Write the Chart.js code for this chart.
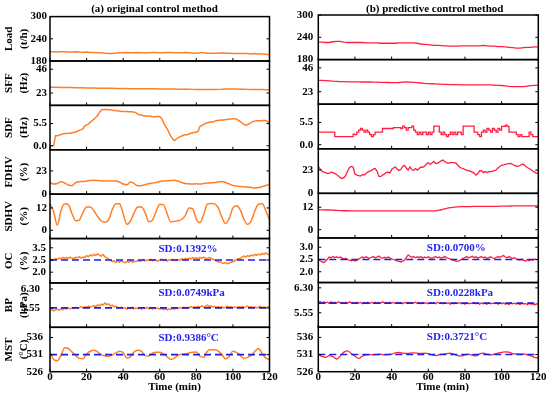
<!DOCTYPE html>
<html>
<head>
<meta charset="utf-8">
<script src="https://cdn.jsdelivr.net/npm/chart.js@4.4.1/dist/chart.umd.min.js"></script>
<style>
  html, body { margin: 0; padding: 0; background: #fff; }
  #wrap { position: relative; width: 550px; height: 398px; overflow: hidden; }
  canvas { position: absolute; top: 0; }
  #cA { left: 0; }
  #cB { left: 275px; }
</style>
</head>
<body>
<div id="wrap">
  <canvas id="cA" width="285" height="398"></canvas>
  <canvas id="cB" width="275" height="398"></canvas>
</div>
<script>
// time bases (min)
var minutes1 = [];
for (var i = 0; i <= 120; i++) minutes1.push(i);
var minutes2 = [];
for (var i = 0; i <= 120; i += 2) minutes2.push(i);
var xTicks = [0, 20, 40, 60, 80, 100, 120];

var panelTitles = [['Load', '(t/h)'], ['SFF', '(Hz)'], ['SDF', '(Hz)'], ['FDHV', '(%)'],
                   ['SDHV', '(%)'], ['OC', '(%)'], ['BP', '(kPa)'], ['MST', '(°C)']];

// (a) original control method
var loadA = [205,205,204,205,205,204,204,205,204,203,
             204,203,203,202,202,201,200,200,201,202,
             202,203,202,202,203,202,202,202,203,203,
             202,202,203,203,202,202,202,203,202,201,
             201,202,202,201,201,201,201,202,201,201,
             200,200,200,200,200,199,200,199,199,198,
             197];
var sffA = [28.6,28.5,28.5,28.4,28.3,28.3,28.2,28.1,28.0,28.0,
            27.9,27.8,27.8,27.7,27.6,27.6,27.5,27.5,27.4,27.4,
            27.3,27.3,27.2,27.2,27.2,27.1,27.1,27.0,27.0,27.0,
            26.9,26.9,26.9,26.8,26.8,26.7,26.7,26.6,26.6,26.5,
            26.4,26.3,26.3,26.3,26.3,26.4,26.5,26.6,26.8,26.8,
            26.8,26.8,26.7,26.6,26.5,26.4,26.4,26.3,26.3,26.2,
            26.2];
var sdfA = [0.0,0.0,0.0,2.5,2.5,2.6,2.8,2.9,3.0,3.0,
            3.1,3.1,3.2,3.3,3.4,3.6,3.8,4.0,4.2,4.9,
            5.1,5.4,5.8,6.2,6.6,7.0,7.5,8.2,8.8,9.0,
            9.0,9.0,8.9,8.9,8.8,8.7,8.7,8.6,8.6,8.5,
            8.5,8.5,8.5,8.4,8.4,8.4,8.3,8.2,7.8,7.7,
            7.6,7.4,7.4,7.3,7.3,7.3,7.2,7.2,7.2,7.3,
            7.2,6.8,5.8,4.9,4.2,3.3,2.4,1.7,1.3,1.6,
            2.0,2.2,2.4,2.6,2.8,2.7,2.9,3.1,3.2,3.3,
            3.4,3.6,4.8,5.0,5.3,5.5,5.7,5.8,5.9,5.9,
            6.1,6.2,6.3,6.3,6.4,6.4,6.5,6.5,6.6,6.6,
            6.7,6.7,6.6,6.3,6.0,5.6,5.3,5.1,5.2,5.5,
            5.8,6.0,6.1,6.2,6.2,6.2,6.2,6.3,6.2,6.0,
            5.8];
var fdhvA = [11.3,10.0,10.5,12.3,11.0,9.0,8.3,11.5,12.3,12.5,
             13.0,13.5,13.7,13.5,13.2,13.0,13.2,13.0,13.0,12.0,
             10.0,9.2,12.0,10.5,8.3,8.5,9.5,10.4,11.0,11.5,
             12.5,13.0,13.2,13.5,13.8,13.0,11.5,10.5,10.2,10.0,
             10.3,10.0,10.5,11.0,11.2,11.5,12.0,12.5,11.5,10.0,
             8.5,8.0,7.5,7.3,7.0,6.8,6.0,6.5,7.5,8.5,
             10.0];
var sdhvA = [14.4,10.0,2.8,10.5,14.2,13.8,9.0,5.2,5.5,9.5,
             12.5,12.5,10.5,7.5,5.0,4.4,5.5,11.0,14.3,14.2,
             9.0,3.2,5.0,9.5,12.5,12.5,9.5,4.6,5.5,10.0,
             14.0,13.8,9.0,4.5,4.8,5.2,5.8,8.0,12.0,11.5,
             6.0,4.0,8.5,14.0,14.4,14.2,12.0,7.0,3.6,6.5,
             12.0,13.2,11.0,6.0,3.2,5.0,10.5,14.0,14.2,10.5,
             5.5];
var ocA = [2.45,2.52,2.50,2.56,2.53,2.58,2.55,2.61,2.56,2.60,
           2.57,2.62,2.58,2.55,2.61,2.59,2.64,2.58,2.62,2.60,
           2.68,2.64,2.71,2.67,2.73,2.69,2.75,2.70,2.66,2.72,
           2.63,2.60,2.54,2.49,2.43,2.47,2.40,2.45,2.41,2.46,
           2.42,2.38,2.44,2.40,2.46,2.41,2.45,2.43,2.48,2.44,
           2.47,2.52,2.46,2.50,2.48,2.53,2.47,2.51,2.49,2.45,
           2.50,2.54,2.48,2.52,2.46,2.51,2.49,2.53,2.47,2.50,
           2.52,2.48,2.55,2.51,2.57,2.53,2.58,2.54,2.60,2.56,
           2.59,2.55,2.61,2.57,2.62,2.58,2.55,2.60,2.57,2.53,
           2.50,2.46,2.42,2.44,2.38,2.36,2.40,2.34,2.38,2.41,
           2.43,2.47,2.52,2.56,2.55,2.62,2.66,2.63,2.68,2.65,
           2.70,2.67,2.73,2.69,2.74,2.71,2.77,2.73,2.79,2.74,
           2.70];
var bpA = [5.44,5.49,5.43,5.47,5.50,5.45,5.51,5.48,5.53,5.50,
           5.55,5.51,5.54,5.52,5.57,5.53,5.56,5.60,5.55,5.59,
           5.57,5.62,5.58,5.61,5.64,5.60,5.67,5.63,5.70,5.66,
           5.74,5.68,5.71,5.63,5.66,5.59,5.62,5.56,5.54,5.58,
           5.52,5.56,5.50,5.55,5.53,5.57,5.51,5.54,5.52,5.56,
           5.50,5.55,5.52,5.57,5.51,5.54,5.50,5.56,5.52,5.54,
           5.50,5.53,5.48,5.52,5.47,5.51,5.49,5.53,5.50,5.54,
           5.52,5.56,5.53,5.58,5.54,5.57,5.55,5.60,5.56,5.59,
           5.57,5.61,5.58,5.63,5.59,5.62,5.66,5.60,5.63,5.58,
           5.61,5.57,5.60,5.56,5.59,5.55,5.58,5.62,5.57,5.60,
           5.56,5.59,5.55,5.60,5.57,5.61,5.56,5.59,5.62,5.57,
           5.60,5.56,5.59,5.55,5.58,5.61,5.56,5.59,5.55,5.58,
           5.57];
var mstA = [531.4,529.6,529.2,530.8,533.0,532.8,531.8,530.8,529.9,529.8,
            531.2,532.0,532.3,531.8,531.0,530.6,530.5,530.9,531.5,532.0,
            531.6,530.0,530.4,531.8,532.3,532.0,530.7,530.6,531.4,531.7,
            531.7,531.2,530.4,529.6,530.0,530.8,531.1,531.2,531.5,531.7,
            531.8,530.6,530.2,532.0,532.4,532.4,532.0,531.0,529.7,530.5,
            532.0,531.6,530.8,529.9,530.2,530.8,532.0,532.8,531.3,530.0,
            529.6];

// (b) predictive control method
var loadB = [227,227,226,226,228,229,229,227,226,226,
             226,226,226,225,225,225,225,224,224,224,
             224,224,225,225,225,225,225,224,222,221,
             220,219,218,218,217,217,216,216,216,217,
             217,217,217,217,217,218,217,216,216,215,
             215,214,213,212,211,211,212,213,213,214,
             214];
var sffB = [34.0,33.9,33.7,33.5,33.2,33.0,32.8,32.7,32.6,32.6,
            32.5,32.5,32.4,32.4,32.4,32.3,32.2,32.1,32.0,31.9,
            31.8,31.8,31.9,32.2,32.4,32.3,32.0,31.7,31.4,31.1,
            30.9,30.7,30.5,30.3,30.1,30.0,29.9,29.8,29.8,29.7,
            29.7,29.7,29.6,29.6,29.6,29.7,29.7,29.6,29.4,29.2,
            29.0,28.6,28.2,28.0,27.9,27.9,28.0,28.4,28.8,29.1,
            29.3];
var sdfB = [3.1,3.1,3.1,3.1,3.1,3.1,3.1,3.1,3.1,
            2.0,2.0,2.0,2.0,2.0,2.0,2.0,2.0,2.0,2.0,
            2.6,2.5,3.1,3.6,4.0,3.6,3.1,3.6,3.1,2.5,2.0,
            2.5,3.1,3.1,3.1,3.1,4.0,4.0,4.0,4.0,4.0,
            4.0,4.2,4.2,4.2,4.2,4.0,4.6,4.2,3.6,4.2,
            4.2,4.6,3.6,3.1,2.5,3.1,2.5,3.1,3.1,2.5,
            3.1,2.5,3.1,4.6,4.6,4.6,3.1,2.5,3.1,2.5,
            2.0,2.5,3.1,2.5,3.1,2.5,3.1,3.1,2.5,4.6,
            4.6,4.6,4.6,4.6,4.6,3.1,3.1,2.5,2.0,3.1,
            3.6,3.1,4.0,3.6,3.1,4.0,3.6,3.1,4.0,3.6,
            4.5,4.5,4.8,4.5,3.1,3.1,3.1,3.1,2.5,2.0,
            2.5,2.0,2.0,2.0,2.0,3.1,2.5,2.0,2.0,2.0,
            2.0];
var fdhvB = [26.7,24.0,22.0,21.0,20.5,19.5,20.0,20.8,20.5,19.5,
             18.6,17.0,15.5,14.7,15.5,18.0,22.0,25.5,26.5,26.0,
             19.0,18.0,17.5,17.0,18.5,18.0,19.5,21.0,22.0,22.5,
             24.0,24.5,22.0,17.0,16.5,18.0,19.0,20.5,21.0,20.0,
             23.5,25.0,26.0,24.0,22.5,23.5,26.5,27.7,25.0,23.0,
             26.0,23.5,22.5,24.5,23.0,24.5,26.0,25.7,27.0,29.0,
             30.3,28.5,30.0,31.5,29.5,29.6,31.0,32.0,32.8,31.5,
             30.0,29.6,30.5,30.3,30.3,30.0,28.0,26.0,25.0,24.5,
             23.5,23.0,22.3,22.0,21.0,20.0,18.0,19.5,22.3,22.3,
             20.5,21.5,20.5,21.5,21.5,22.0,22.5,23.0,25.0,26.5,
             27.7,28.0,28.5,29.0,29.3,29.6,28.5,27.5,27.0,26.7,
             27.5,28.5,28.8,27.0,25.5,24.5,23.5,22.0,21.0,20.0,
             19.5];
var sdhvB = [10.6,10.6,10.5,10.5,10.4,10.3,10.2,10.1,10.1,10.0,
             10.0,10.0,10.0,10.0,10.0,10.0,10.0,10.0,10.0,10.0,
             10.0,10.0,10.0,10.0,10.0,10.0,10.0,10.0,10.0,10.0,
             10.0,10.0,10.1,10.4,10.9,11.4,11.8,12.0,12.2,12.3,
             12.3,12.3,12.4,12.4,12.4,12.4,12.5,12.5,12.5,12.5,
             12.6,12.6,12.6,12.7,12.7,12.7,12.7,12.7,12.7,12.7,
             12.7];
var ocB = [2.49,2.45,2.40,2.38,2.44,2.52,2.60,2.57,2.62,2.58,
           2.61,2.57,2.60,2.56,2.52,2.55,2.50,2.47,2.45,2.48,
           2.44,2.47,2.52,2.56,2.60,2.57,2.61,2.58,2.55,2.59,
           2.62,2.57,2.60,2.64,2.58,2.55,2.59,2.56,2.60,2.57,
           2.53,2.50,2.47,2.44,2.42,2.40,2.43,2.47,2.58,2.69,
           2.63,2.59,2.62,2.57,2.61,2.58,2.62,2.56,2.60,2.57,
           2.61,2.58,2.55,2.59,2.62,2.57,2.60,2.56,2.59,2.62,
           2.58,2.55,2.52,2.49,2.46,2.43,2.42,2.45,2.50,2.55,
           2.58,2.62,2.57,2.60,2.63,2.58,2.61,2.56,2.59,2.62,
           2.57,2.60,2.55,2.58,2.61,2.57,2.54,2.58,2.62,2.59,
           2.63,2.66,2.60,2.57,2.62,2.58,2.55,2.57,2.53,2.50,
           2.47,2.52,2.46,2.44,2.49,2.45,2.50,2.47,2.52,2.49,
           2.53];
var bpB = [5.86,5.89,5.84,5.88,5.85,5.87,5.83,5.88,5.85,5.87,
           5.84,5.88,5.85,5.86,5.83,5.87,5.84,5.88,5.85,5.86,
           5.83,5.87,5.84,5.86,5.82,5.86,5.84,5.87,5.83,5.86,
           5.84,5.87,5.83,5.86,5.84,5.88,5.85,5.86,5.83,5.87,
           5.84,5.86,5.83,5.87,5.84,5.86,5.82,5.86,5.84,5.87,
           5.83,5.86,5.84,5.87,5.83,5.85,5.82,5.86,5.84,5.85,
           5.82,5.86,5.83,5.85,5.82,5.86,5.84,5.85,5.82,5.86,
           5.83,5.85,5.81,5.84,5.82,5.85,5.83,5.86,5.82,5.84,
           5.81,5.85,5.82,5.84,5.83,5.86,5.82,5.84,5.81,5.85,
           5.82,5.84,5.81,5.85,5.82,5.84,5.83,5.85,5.81,5.84,
           5.82,5.85,5.81,5.83,5.80,5.84,5.82,5.84,5.81,5.83,
           5.80,5.84,5.81,5.83,5.79,5.83,5.81,5.82,5.79,5.82,
           5.80];
var mstB = [530.9,530.5,530.2,530.7,530.4,529.7,530.6,531.7,532.1,531.3,
            530.5,529.9,530.5,530.9,531.0,530.9,531.0,531.1,530.9,531.0,
            531.1,531.5,531.6,531.4,531.3,531.4,531.5,531.4,531.3,531.4,
            531.3,530.9,530.7,531.0,531.1,531.3,531.4,531.1,530.7,530.6,
            530.9,531.1,530.8,530.6,531.2,531.4,531.1,530.9,531.1,531.4,
            531.6,531.8,531.7,531.3,531.2,531.1,531.2,530.9,530.6,530.2,
            529.9];

// axis ranges and tick labels
var rangesA = [[180, 300], [11, 54], [-1, 10], [0, 44], [-4.4, 19.4], [1.56, 3.38], [4.78, 6.54], [526, 539]];
var rangesB = [[180, 300], [11, 54], [-1, 10], [0, 44], [-4.4, 19.4], [1.56, 3.38], [5.12, 6.46], [526, 539]];
var tickValues = [[180, 240, 300], [23, 46], [0, 5.5], [0, 23], [0, 12], [2.0, 2.5, 3.0], [5.55, 6.30], [526, 531, 536]];
var tickLabelsA = [['180', '240', '300'], ['23', '46'], ['0.0', '5.5'], ['0', '23'], ['0', '12'],
                   ['2.0', '2.5', '3.5'], ['5.55', '6.30'], ['526', '531', '536']];
var tickLabelsB = [['180', '240', '300'], ['23', '46'], ['0.0', '5.5'], ['0', '23'], ['0', '12'],
                   ['2.0', '2.5', '3.0'], ['5.55', '6.30'], ['526', '531', '536']];

// set points (OC, BP, MST) and their SD notes
var setA = [2.5, 5.55, 531];
var setB = [2.5, 5.84, 531];
var sdA = ['SD:0.1392%', 'SD:0.0749kPa', 'SD:0.9386°C'];
var sdB = ['SD:0.0700%', 'SD:0.0228kPa', 'SD:0.3721°C'];

var serif = '"Liberation Serif", "Times New Roman", serif';
var boldFont = { family: serif, size: 11, weight: 'bold' };

function pts(times, vals) {
  return vals.map(function (v, i) { return { x: times[i], y: v }; });
}

var frame = {
  id: 'frame',
  afterDatasetsDraw: function (chart, args, o) {
    var ctx = chart.ctx, a = chart.chartArea, xs = chart.scales.x;
    ctx.save();
    ctx.strokeStyle = '#000';
    for (var i = 0; i < 8; i++) {
      var s = chart.scales['y' + i];
      ctx.lineWidth = 1.5;
      ctx.strokeRect(a.left, s.top, a.right - a.left, s.bottom - s.top);
      ctx.beginPath();
      xs.ticks.forEach(function (t) {
        var px = xs.getPixelForValue(t.value);
        ctx.moveTo(px, s.bottom); ctx.lineTo(px, s.bottom - 3);
      });
      s.ticks.forEach(function (t) {
        var py = s.getPixelForValue(t.value);
        ctx.moveTo(a.left, py); ctx.lineTo(a.left + 3, py);
        ctx.moveTo(a.right, py); ctx.lineTo(a.right - 3, py);
      });
      ctx.lineWidth = 1;
      ctx.stroke();
    }
    ctx.font = 'bold 11px ' + serif;
    ctx.textBaseline = 'middle';
    ctx.textAlign = 'left';
    ctx.fillStyle = '#2323ee';
    o.sd.forEach(function (txt, k) {
      var s = chart.scales['y' + (5 + k)];
      ctx.fillText(txt, a.left + 108.5, s.top + 10.5);
    });
    ctx.fillStyle = '#000';
    ctx.textAlign = 'center';
    ctx.fillText(o.heading, o.headingX, 9.5);
    ctx.fillText(o.timeTitle, o.timeX, 387);
    ctx.restore();
  }
};

function makeChart(id, c) {
  var scales = {
    x: {
      type: 'linear', min: 0, max: 120,
      afterBuildTicks: function (s) { s.ticks = xTicks.map(function (v) { return { value: v }; }); },
      afterFit: function (s) { s.height = 26.3; s.paddingLeft = 0; s.paddingRight = 0; },
      ticks: { font: boldFont, color: '#000', padding: -1, maxRotation: 0, autoSkip: false },
      grid: { display: false, drawTicks: false },
      border: { display: false }
    }
  };
  var datasets = [];
  for (var i = 0; i < 8; i++) {
    (function (i) {
      scales['y' + i] = {
        type: 'linear', position: 'left', stack: 'panels', stackWeight: 1, weight: 8 - i,
        min: c.ranges[i][0], max: c.ranges[i][1],
        afterBuildTicks: function (s) { s.ticks = tickValues[i].map(function (v) { return { value: v }; }); },
        afterFit: function (s) { s.width = c.yWidth; },
        ticks: {
          autoSkip: false, color: '#000', font: boldFont, padding: c.tickPad[i],
          callback: function (v, idx) { return c.tickLabels[i][idx]; }
        },
        grid: { display: false, drawTicks: false },
        border: { display: false },
        title: {
          display: c.showTitles, text: panelTitles[i], color: '#000',
          font: { family: serif, size: 11, weight: 'bold', lineHeight: 1.36 },
          padding: { top: 1.5, bottom: 0 }
        }
      };
      datasets.push({
        data: pts(c.times[i], c.series[i]), yAxisID: 'y' + i,
        borderColor: c.color, borderWidth: c.lineWidth, pointRadius: 0, fill: false,
        tension: c.smooth[i] ? 0.4 : 0, cubicInterpolationMode: c.smooth[i] ? 'monotone' : 'default',
        stepped: c.stepped[i], order: 1
      });
    })(i);
  }
  c.setpoints.forEach(function (sp, k) {
    datasets.push({
      data: [{ x: 0, y: sp }, { x: 120, y: sp }], yAxisID: 'y' + (5 + k),
      borderColor: '#1f1fe0', borderWidth: 1.6, borderDash: [7, 4],
      pointRadius: 0, fill: false, order: 0
    });
  });
  return new Chart(document.getElementById(id), {
    type: 'line',
    data: { datasets: datasets },
    options: {
      responsive: false, animation: false, devicePixelRatio: 1, events: [],
      layout: { padding: { top: 15, bottom: 0, left: 0, right: c.padRight } },
      scales: scales,
      plugins: {
        legend: { display: false }, tooltip: { enabled: false },
        frame: { sd: c.sd, heading: c.heading, headingX: c.headingX, timeTitle: 'Time (min)', timeX: c.timeX }
      }
    },
    plugins: [frame]
  });
}

makeChart('cA', {
  series: [loadA, sffA, sdfA, fdhvA, sdhvA, ocA, bpA, mstA],
  times: [minutes2, minutes2, minutes1, minutes2, minutes2, minutes1, minutes1, minutes2],
  smooth: [false, false, false, true, true, false, false, true],
  stepped: [false, false, false, false, false, false, false, false],
  ranges: rangesA, tickLabels: tickLabelsA, tickPad: [3, 3, 3, 3, 3, 4, 10, 7],
  color: '#ff7f27', lineWidth: 1.5, yWidth: 50, padRight: 15.5, showTitles: true,
  setpoints: setA, sd: sdA,
  heading: '(a) original control method', headingX: 154.5, timeX: 174.5
});

makeChart('cB', {
  series: [loadB, sffB, sdfB, fdhvB, sdhvB, ocB, bpB, mstB],
  times: [minutes2, minutes2, minutes1, minutes1, minutes2, minutes1, minutes1, minutes2],
  smooth: [false, false, false, false, true, false, false, true],
  stepped: [false, false, true, false, false, false, false, false],
  ranges: rangesB, tickLabels: tickLabelsB, tickPad: [5, 5, 5, 5, 5, 5, 5, 5],
  color: '#ff2040', lineWidth: 1.3, yWidth: 43.3, padRight: 11.7, showTitles: false,
  setpoints: setB, sd: sdB,
  heading: '(b) predictive control method', headingX: 159.7, timeX: 167.5
});
</script>
</body>
</html>
